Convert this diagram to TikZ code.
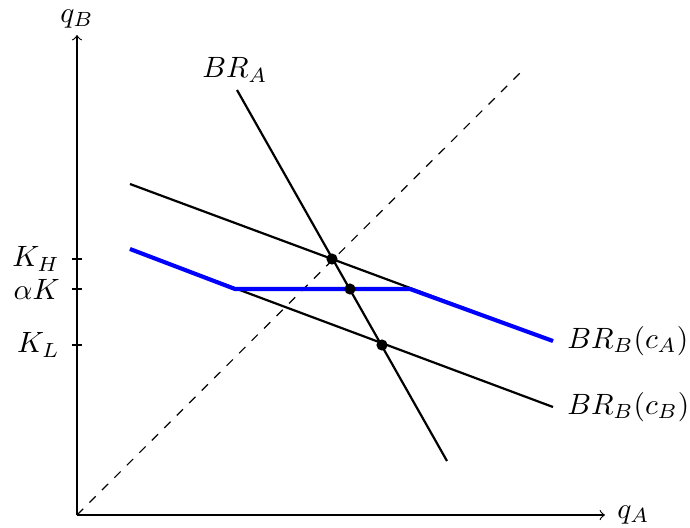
\documentclass[tikz,border=0pt]{standalone}
\begin{document}
\begin{tikzpicture}[x=0.3406pt,y=-0.3406pt,
  axis/.style={thin,->,>=to},
  brline/.style={line width=0.75pt,black},
  bluebr/.style={blue,line width=1.4pt,line join=miter},
  eqdot/.style={circle,fill=black,inner sep=0pt,minimum size=3.8pt},
  tick/.style={thin}]
\useasboundingbox (0,0) rectangle (690,527);
% axes
\coordinate (O) at (77,515);
\coordinate (ytop) at (77,35);
\coordinate (xend) at (605,515);
\draw[axis] (O) -- (ytop);
\draw[axis] (O) -- (xend);
\node (qB) at (77,19) {$q_B$};
\node[anchor=west] (qA) at (607,515) {$q_A$};
% ticks
\coordinate (tH) at (77,259);
\coordinate (tA) at (77,289);
\coordinate (tL) at (77,345);
\foreach \t in {tH,tA,tL} \draw[tick] ([xshift=-1.7pt]\t) -- ([xshift=1.7pt]\t);
\node[anchor=east] (KH) at (70,259) {$K_H$};
\node[anchor=east] (aK) at (70,289) {$\alpha K$};
\node[anchor=east] (KL) at (70,345) {$K_L$};
% 45 degree line
\coordinate (d1) at (525,68);
\draw[dashed,thin] (O) -- (d1);
% BR_A
\coordinate (a1) at (237,90);
\coordinate (a2) at (447,461);
\draw[brline] (a1) -- (a2);
\node (BRA) at (235,70) {$BR_A$};
% upper BR_B
\coordinate (u1) at (130,184);
\coordinate (u2) at (553,341);
\draw[brline] (u1) -- (u2);
% lower BR_B
\coordinate (l1) at (130,249);
\coordinate (l2) at (553,407);
\draw[brline] (l1) -- (l2);
% blue kinked BR_B(c_A)
\coordinate (k1) at (235,289);
\coordinate (k2) at (410,289);
\draw[bluebr] (l1) -- (k1) -- (k2) -- (u2);
\node[anchor=west] (BRBA) at (557,341) {$BR_B(c_A)$};
\node[anchor=west] (BRBB) at (557,407) {$BR_B(c_B)$};
% equilibria
\node[eqdot] (e1) at (332,259) {};
\node[eqdot] (e2) at (350,289) {};
\node[eqdot] (e3) at (382,345) {};
\end{tikzpicture}
\end{document}
